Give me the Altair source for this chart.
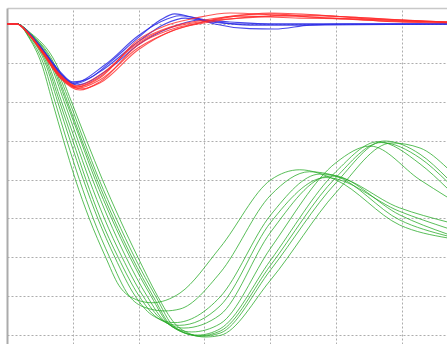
import altair as alt
import pandas as pd

# ---- green family (t in grid units, v in grid units) ----
g1_t = [0, 0.15, 0.35, 0.52, 0.69, 0.86, 1.04, 1.25, 1.50, 1.70, 1.90, 2.20, 2.63, 3.24, 4.01, 4.45, 5.00, 5.97, 6.69]
g1_v = [0, 0, -0.40, -1, -2, -3, -4, -5, -6, -6.72, -7.04, -7.17, -6.92, -5.75, -4.01, -3.75, -4.01, -5.17, -5.50]
g2_t = [0, 0.15, 0.35, 0.55, 0.73, 0.91, 1.10, 1.31, 1.56, 1.86, 2.08, 2.40, 2.63, 3.24, 4.01, 4.60, 5.00, 5.97, 6.69]
g2_v = [0, 0, -0.37, -1, -2, -3, -4, -5, -6, -7, -7.28, -7.38, -7.33, -6.40, -4.40, -3.80, -3.91, -5.04, -5.45]
g3_t = [0, 0.15, 0.35, 0.58, 0.77, 0.96, 1.16, 1.38, 1.64, 1.95, 2.20, 2.55, 3.24, 4.01, 4.76, 5.00, 5.97, 6.69]
g3_v = [0, 0, -0.33, -1, -2, -3, -4, -5, -6, -7, -7.48, -7.68, -7.02, -4.91, -3.86, -3.90, -4.91, -5.40]
g4_t = [0, 0.15, 0.35, 0.62, 0.83, 1.04, 1.25, 1.48, 1.75, 2.07, 2.35, 2.69, 3.24, 4.01, 4.91, 5.97, 6.69]
g4_v = [0, 0, -0.30, -1, -2, -3, -4, -5, -6, -7, -7.60, -7.82, -7.48, -5.35, -3.91, -4.73, -5.09]
g5_t = [0, 0.15, 0.35, 0.65, 0.87, 1.08, 1.30, 1.54, 1.81, 2.13, 2.42, 2.81, 3.24, 4.01, 5.00, 5.52, 6.28, 6.69]
g5_v = [0, 0, -0.28, -1, -2, -3, -4, -5, -6, -7, -7.68, -7.92, -7.71, -5.76, -3.57, -3.14, -4.01, -4.45]
g6_t = [0, 0.15, 0.35, 0.67, 0.90, 1.12, 1.34, 1.59, 1.87, 2.19, 2.48, 2.90, 3.24, 4.01, 5.00, 5.64, 6.28, 6.69]
g6_v = [0, 0, -0.26, -1, -2, -3, -4, -5, -6, -7, -7.75, -8.00, -7.84, -6.07, -3.80, -3.03, -3.60, -4.22]
g7_t = [0, 0.15, 0.35, 0.71, 0.95, 1.17, 1.40, 1.66, 1.94, 2.26, 2.55, 2.95, 3.24, 4.01, 5.00, 5.74, 6.28, 6.69]
g7_v = [0, 0, -0.24, -1, -2, -3, -4, -5, -6, -7, -7.80, -8.03, -7.95, -6.32, -4.09, -3.01, -3.35, -3.96]
g8_t = [0, 0.15, 0.35, 0.74, 0.98, 1.21, 1.45, 1.71, 1.99, 2.29, 2.55, 2.80, 3.01, 3.24, 4.01, 5.00, 5.85, 6.28, 6.69]
g8_v = [0, 0, -0.22, -1, -2, -3, -4, -5, -6, -7, -7.70, -7.98, -8.05, -8.01, -6.58, -4.34, -3.06, -3.19, -3.70]
g9_t = [0, 0.15, 0.35, 0.60, 0.80, 1.00, 1.20, 1.42, 1.69, 2.01, 2.28, 2.62, 3.24, 4.01, 4.85, 5.97, 6.69]
g9_v = [0, 0, -0.31, -1, -2, -3, -4, -5, -6, -7, -7.55, -7.75, -7.25, -5.10, -3.95, -4.82, -5.25]
g10_t = [0, 0.15, 0.35, 0.69, 0.92, 1.14, 1.37, 1.62, 1.90, 2.22, 2.51, 2.92, 3.24, 4.01, 5.00, 5.69, 6.28, 6.69]
g10_v = [0, 0, -0.25, -1, -2, -3, -4, -5, -6, -7, -7.78, -8.02, -7.90, -6.20, -3.95, -3.05, -3.45, -4.05]

# ---- blue family ----
b1_t = [0, 0.15, 0.35, 0.55, 0.81, 1.00, 1.26, 1.57, 1.99, 2.33, 2.55, 2.86, 3.16, 3.69, 4.07, 4.60, 5.21, 6.69]
b1_v = [0, 0, -0.26, -0.67, -1.23, -1.49, -1.39, -0.98, -0.36, 0.10, 0.26, 0.15, 0.0, -0.12, -0.13, -0.03, 0, 0]
b2_t = [0, 0.15, 0.35, 0.55, 0.81, 1.03, 1.41, 1.99, 2.40, 2.71, 3.09, 3.54, 6.69]
b2_v = [0, 0, -0.28, -0.70, -1.28, -1.54, -1.23, -0.46, 0.0, 0.15, 0.05, 0.0, 0.0]
b3_t = [0, 0.15, 0.35, 0.55, 0.81, 1.06, 1.57, 1.99, 2.48, 2.93, 3.39, 4.00, 6.69]
b3_v = [0, 0, -0.28, -0.72, -1.31, -1.57, -1.13, -0.54, -0.10, 0.10, 0.05, 0.0, 0.0]
b4_t = [0, 0.15, 0.35, 0.55, 0.81, 1.00, 1.49, 1.99, 2.33, 2.63, 3.09, 3.69, 4.45, 6.69]
b4_v = [0, 0, -0.26, -0.67, -1.26, -1.52, -1.05, -0.31, 0.05, 0.21, 0.08, -0.03, -0.03, 0.0]

# ---- red family ----
r1_t = [0, 0.15, 0.35, 0.55, 0.81, 1.08, 1.41, 1.99, 2.48, 2.99, 3.54, 4.07, 4.60, 5.21, 5.97, 6.69]
r1_v = [0, 0, -0.30, -0.75, -1.36, -1.65, -1.44, -0.62, -0.20, 0.05, 0.23, 0.26, 0.18, 0.13, 0.05, 0.03]
r2_t = [0, 0.15, 0.35, 0.55, 0.81, 1.11, 1.41, 1.99, 2.48, 2.93, 3.39, 4.00, 4.91, 5.67, 6.69]
r2_v = [0, 0, -0.31, -0.78, -1.39, -1.70, -1.49, -0.54, -0.15, 0.03, 0.18, 0.28, 0.21, 0.10, 0.05]
r3_t = [0, 0.15, 0.35, 0.55, 0.81, 1.06, 1.41, 1.99, 2.48, 2.99, 3.54, 4.45, 5.21, 6.28, 6.69]
r3_v = [0, 0, -0.29, -0.73, -1.33, -1.62, -1.36, -0.46, -0.08, 0.10, 0.20, 0.15, 0.13, 0.08, 0.05]
r4_t = [0, 0.15, 0.35, 0.55, 0.81, 1.14, 1.41, 1.99, 2.55, 3.09, 3.69, 4.45, 5.21, 5.97, 6.69]
r4_v = [0, 0, -0.31, -0.77, -1.38, -1.67, -1.52, -0.67, -0.15, 0.05, 0.18, 0.23, 0.18, 0.10, 0.03]
r5_t = [0, 0.15, 0.35, 0.55, 0.81, 1.08, 1.41, 1.99, 2.40, 2.86, 3.39, 4.07, 4.91, 5.67, 6.69]
r5_v = [0, 0, -0.30, -0.74, -1.34, -1.62, -1.39, -0.41, -0.05, 0.15, 0.28, 0.23, 0.15, 0.08, 0.05]
r6_t = [0, 0.15, 0.35, 0.55, 0.81, 1.06, 1.41, 1.99, 2.48, 2.93, 3.54, 4.60, 5.52, 6.28, 6.69]
r6_v = [0, 0, -0.29, -0.72, -1.31, -1.59, -1.31, -0.50, -0.10, 0.05, 0.15, 0.21, 0.15, 0.08, 0.05]

x_ticks = [0, 1, 2, 3, 4, 5, 6]
y_ticks = [0, -1, -2, -3, -4, -5, -6, -7, -8]
x_domain = [0, 6.69]
y_domain = [-8.23, 0.41]


def frame(curves):
    rows = []
    for name, ts, vs in curves:
        for i, (t, v) in enumerate(zip(ts, vs)):
            rows.append({"curve": name, "i": i, "t": t, "v": v})
    return pd.DataFrame(rows)


green_df = frame([("g1", g1_t, g1_v), ("g2", g2_t, g2_v), ("g3", g3_t, g3_v),
                  ("g4", g4_t, g4_v), ("g5", g5_t, g5_v), ("g6", g6_t, g6_v),
                  ("g7", g7_t, g7_v), ("g8", g8_t, g8_v), ("g9", g9_t, g9_v),
                  ("g10", g10_t, g10_v)])
blue_df = frame([("b1", b1_t, b1_v), ("b2", b2_t, b2_v), ("b3", b3_t, b3_v), ("b4", b4_t, b4_v)])
red_df = frame([("r1", r1_t, r1_v), ("r2", r2_t, r2_v), ("r3", r3_t, r3_v),
                ("r4", r4_t, r4_v), ("r5", r5_t, r5_v), ("r6", r6_t, r6_v)])

xscale = alt.Scale(domain=x_domain, nice=False, zero=False)
yscale = alt.Scale(domain=y_domain, nice=False, zero=False)

x_axis = alt.Axis(orient="top", values=x_ticks, labels=False, ticks=False, title=None,
                  domain=True, domainColor="#c8c8c8", domainWidth=1.5,
                  grid=True, gridColor="#adadad", gridDash=[2, 2], gridWidth=1)
y_axis = alt.Axis(orient="left", values=y_ticks, labels=False, ticks=False, title=None,
                  domain=True, domainColor="#ababab", domainWidth=2,
                  grid=True, gridColor="#adadad", gridDash=[2, 2], gridWidth=1)


def lines(df, color, width, opacity):
    return alt.Chart(df).mark_line(
        interpolate="monotone", strokeWidth=width, clip=True, opacity=opacity
    ).encode(
        x=alt.X("t:Q", scale=xscale, axis=x_axis),
        y=alt.Y("v:Q", scale=yscale, axis=y_axis),
        detail="curve:N",
        order="i:Q",
        color=alt.value(color),
    )


chart = alt.layer(
    lines(green_df, "#22a822", 1, 0.75),
    lines(blue_df, "#2a2ae6", 1.1, 0.85),
    lines(red_df, "#ff2a2a", 1.1, 0.8),
).properties(
    width=440, height=336,
    padding={"left": 7, "top": 8, "right": 0, "bottom": 0},
    autosize="none",
    background="white",
).configure_view(strokeWidth=0)

chart.save("out.html", embed_options={"renderer": "svg", "actions": False})
